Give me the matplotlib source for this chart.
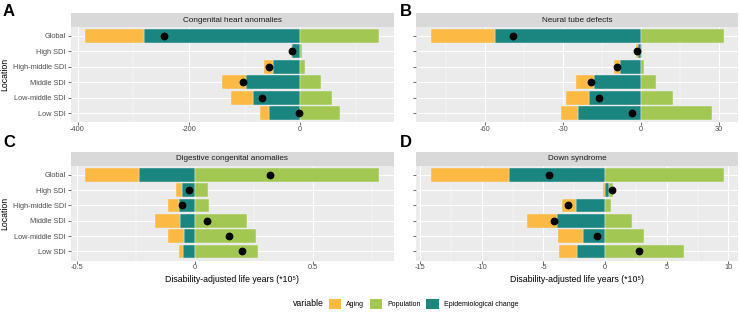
import matplotlib
matplotlib.use('Agg')
import matplotlib.pyplot as plt
from matplotlib.patches import Patch
from matplotlib.ticker import MultipleLocator, FuncFormatter

plt.rcParams['font.family'] = ['Liberation Sans', 'DejaVu Sans']
plt.rcParams['axes.unicode_minus'] = False

# ---------------- data ----------------
locations = ["Global", "High SDI", "High-middle SDI", "Middle SDI", "Low-middle SDI", "Low SDI"]
causes = ["Congenital heart anomalies", "Neural tube defects",
          "Digestive congenital anomalies", "Down syndrome"]
panel_labels = ["A", "B", "C", "D"]
components = ["Aging", "Population", "Epidemiological change"]

heart_aging = [-106, -3, -17, -42.4, -40.6, -16.2]
heart_population = [142, 3, 9, 37, 57, 70.7]
heart_epi = [-280, -14, -49, -97.6, -84.4, -56.3]

neural_aging = [-24.9, -0.6, -2.4, -6.9, -8.9, -6.5]
neural_population = [31.8, 0.3, 1.2, 5.7, 12.5, 27.5]
neural_epi = [-55.9, -1.3, -7.9, -17.9, -19.8, -24.3]

digestive_aging = [-0.225, -0.025, -0.044, -0.107, -0.065, -0.017]
digestive_population = [0.779, 0.055, 0.060, 0.221, 0.258, 0.265]
digestive_epi = [-0.238, -0.055, -0.069, -0.062, -0.048, -0.049]

down_aging = [-6.36, -0.13, -1.11, -2.45, -2.02, -1.46]
down_population = [9.62, 0.32, 0.49, 2.16, 3.15, 6.44]
down_epi = [-7.79, 0.35, -2.37, -3.86, -1.81, -2.26]

major_steps = [200, 30, 0.5, 5]

panel_data = [
    (heart_aging, heart_population, heart_epi),
    (neural_aging, neural_population, neural_epi),
    (digestive_aging, digestive_population, digestive_epi),
    (down_aging, down_population, down_epi),
]

colors = {"Aging": "#FCB944", "Population": "#A2C853", "Epidemiological change": "#1B857F"}

# ---------------- layout (pixels) ----------------
W, H = 740, 312
fig = plt.figure(figsize=(W / 100, H / 100), dpi=100)

def fx(px):
    return px / W

def fy(py):
    return 1 - py / H

cols = [(70.7, 394.0), (416.0, 738.3)]
rows = [(13.3, 26.7, 122.5), (152.0, 165.5, 260.7)]

tick_col = "#4D4D4D"
for i in range(4):
    r, c = divmod(i, 2)
    x0, x1 = cols[c]
    s0, p0, p1 = rows[r]
    ax = fig.add_axes([fx(x0), fy(p1), fx(x1) - fx(x0), (p1 - p0) / H])
    sax = fig.add_axes([fx(x0), fy(p0), fx(x1) - fx(x0), (p0 - s0) / H])
    sax.set_facecolor("#D9D9D9")
    sax.set_xticks([]); sax.set_yticks([])
    for sp in sax.spines.values():
        sp.set_visible(False)
    sax.text(0.5, 0.5, causes[i], ha="center", va="center", fontsize=5.9,
             color="#1A1A1A", transform=sax.transAxes)

    ax.set_facecolor("#EBEBEB")
    for sp in ax.spines.values():
        sp.set_visible(False)

    aging, pop, epi = panel_data[i]
    series = {"Aging": aging, "Population": pop, "Epidemiological change": epi}
    stack_order = ["Epidemiological change", "Population", "Aging"]
    lo, hi = 0.0, 0.0
    nets = []
    for j, loc in enumerate(locations):
        pos, neg = 0.0, 0.0
        for comp in stack_order:
            v = series[comp][j]
            if v >= 0:
                ax.barh(j, v, left=pos, height=0.9, color=colors[comp],
                        edgecolor="#F2F2F2", linewidth=0.3, zorder=2)
                pos += v
            else:
                ax.barh(j, v, left=neg, height=0.9, color=colors[comp],
                        edgecolor="#F2F2F2", linewidth=0.3, zorder=2)
                neg += v
        lo = min(lo, neg); hi = max(hi, pos)
        nets.append(aging[j] + pop[j] + epi[j])
    ax.plot(nets, range(len(locations)), "o", color="black", markersize=4.6, zorder=3)

    span = hi - lo
    ax.set_xlim(lo - 0.05 * span, hi + 0.05 * span)
    ax.set_ylim(len(locations) - 0.4, -0.6)

    step = major_steps[i]
    ax.xaxis.set_major_locator(MultipleLocator(step))
    ax.xaxis.set_minor_locator(MultipleLocator(step / 2))
    ax.xaxis.set_major_formatter(FuncFormatter(lambda v, p: "{:g}".format(round(v, 6))))
    ax.set_yticks(range(len(locations)))
    if c == 0:
        ax.set_yticklabels(locations)
    else:
        ax.set_yticklabels([])
    ax.grid(which="major", color="white", linewidth=0.75, zorder=0)
    ax.grid(which="minor", axis="x", color="white", linewidth=0.35, zorder=0)
    ax.set_axisbelow(True)
    ax.tick_params(axis="both", which="major", length=2, width=0.5, color="#333333",
                   labelsize=5.3, labelcolor=tick_col, pad=1.5)
    ax.tick_params(axis="x", which="major", pad=0.6)
    ax.tick_params(axis="x", which="minor", length=0)

    if r == 1:
        ax.set_xlabel("Disability-adjusted life years (*10⁵)", fontsize=6.3,
                      color="black", labelpad=3)
    lx = 3 if c == 0 else 400
    ly = 12 if r == 0 else 142.5
    fig.text(fx(lx), fy(ly), panel_labels[i], fontsize=12, fontweight="bold",
             ha="left", va="center")

for r in range(2):
    s0, p0, p1 = rows[r]
    fig.text(fx(5), fy((p0 + p1) / 2), "Location", rotation=90, fontsize=6.3,
             ha="center", va="center")

# legend
fig.text(fx(293), fy(303.7), "variable", fontsize=6.3, ha="left", va="center")
handles = [Patch(facecolor=colors[k], edgecolor="none") for k in components]
fig.legend(handles, components, ncol=3, loc="center left",
           bbox_to_anchor=(fx(329), fy(303.7)), frameon=False, fontsize=5,
           handlelength=1.77, handleheight=1.77, handletextpad=0.72,
           columnspacing=0.82, borderpad=0, borderaxespad=0)

fig.savefig("out.png", dpi=100)
